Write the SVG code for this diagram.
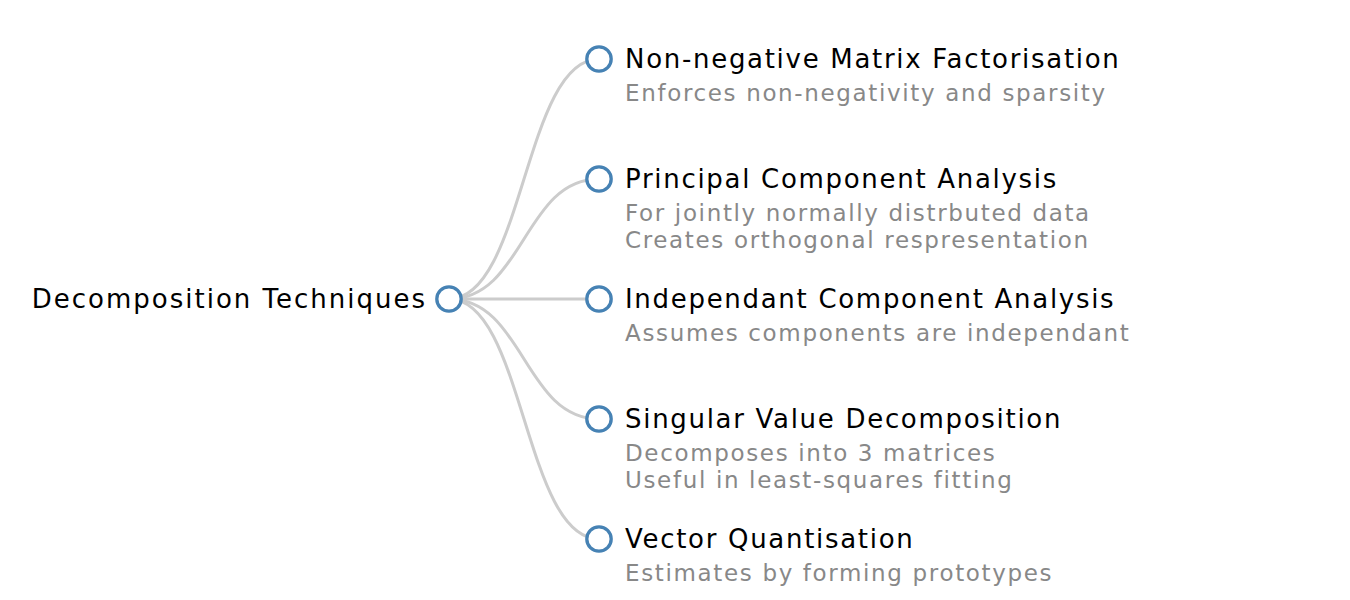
<svg xmlns="http://www.w3.org/2000/svg" width="1350" height="600" viewBox="0 0 1350 600">
<style>
.link{fill:none;stroke:#ccc;stroke-width:3}
.node circle{fill:#fff;stroke:#4682b4;stroke-width:3.3}
.t{font-family:"DejaVu Sans","Noto Sans",sans-serif;font-size:26px;letter-spacing:1.7px;fill:#000}
.s{font-family:"DejaVu Sans","Noto Sans",sans-serif;font-size:23px;letter-spacing:1.65px;fill:#888}
.r{letter-spacing:2px}
</style>
<rect width="1350" height="600" fill="#fff"/>
<g id="links">
<path class="link" d="M449,299C524,299 524,59 599,59"/>
<path class="link" d="M449,299C524,299 524,179 599,179"/>
<path class="link" d="M449,299L599,299"/>
<path class="link" d="M449,299C524,299 524,419 599,419"/>
<path class="link" d="M449,299C524,299 524,539 599,539"/>
</g>
<g id="root" class="node"><circle cx="449" cy="299" r="12.2"/><text class="t r" x="427" y="308" text-anchor="end">Decomposition Techniques</text></g>
<g id="nmf" class="node"><circle cx="599" cy="59" r="12.2"/><text class="t" x="625" y="68">Non-negative Matrix Factorisation</text><text class="s" x="625" y="101">Enforces non-negativity and sparsity</text></g>
<g id="pca" class="node"><circle cx="599" cy="179" r="12.2"/><text class="t" x="625" y="188">Principal Component Analysis</text><text class="s" x="625" y="221">For jointly normally distrbuted data</text><text class="s" x="625" y="248">Creates orthogonal respresentation</text></g>
<g id="ica" class="node"><circle cx="599" cy="299" r="12.2"/><text class="t" x="625" y="308">Independant Component Analysis</text><text class="s" x="625" y="341">Assumes components are independant</text></g>
<g id="svd" class="node"><circle cx="599" cy="419" r="12.2"/><text class="t" x="625" y="428">Singular Value Decomposition</text><text class="s" x="625" y="461">Decomposes into 3 matrices</text><text class="s" x="625" y="488">Useful in least-squares fitting</text></g>
<g id="vq" class="node"><circle cx="599" cy="539" r="12.2"/><text class="t" x="625" y="548">Vector Quantisation</text><text class="s" x="625" y="581">Estimates by forming prototypes</text></g>
</svg>
